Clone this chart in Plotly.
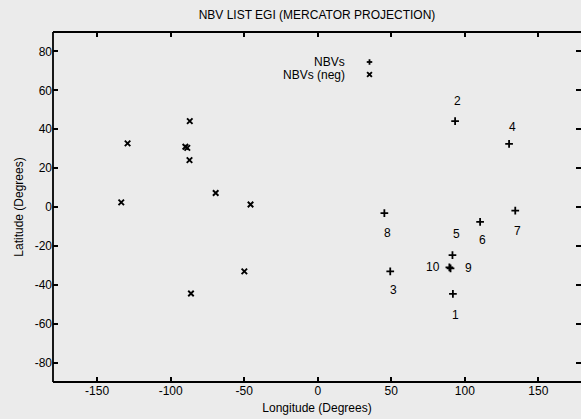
import plotly.graph_objects as go

# NBV (positive) points
nbv_lon = [91.9, 93.4, 49.3, 130.1, 91.6, 110.4, 134.3, 45.3, 90.3, 89.5]
nbv_lat = [-44.7, 44.2, -33.1, 32.5, -24.7, -7.7, -1.9, -3.1, -31.6, -31.0]
nbv_labels = ["1", "2", "3", "4", "5", "6", "7", "8", "9", "10"]

# NBV (negative) points
neg_lon = [-129.3, -87.0, -90.0, -88.7, -87.2, -69.4, -133.6, -45.7, -49.9, -86.2]
neg_lat = [32.7, 44.2, 31.0, 30.4, 24.1, 7.2, 2.4, 1.3, -33.1, -44.5]

x_ticks = [-150, -100, -50, 0, 50, 100, 150]
y_ticks = [-80, -60, -40, -20, 0, 20, 40, 60, 80]

# label pixel offsets (screen px: dx, dy up positive)
label_shift = [(3, -21), (2, 20), (3, -19), (3, 17), (4, 21), (2, -18),
               (2, -20), (3, -20), (18, 0), (-16, 0)]

W, H = 581, 419
ML, MR, MT, MB = 53, 0, 32, 37
BG = "#ebebeb"
FONT = "Liberation Sans, Arial, Helvetica, sans-serif"

fig = go.Figure()
fig.add_trace(go.Scatter(
    x=nbv_lon, y=nbv_lat, mode="markers", name="NBVs",
    marker=dict(symbol="cross-thin", size=5.5, color="black",
                line=dict(width=1.8, color="black")),
    showlegend=False, cliponaxis=False))
fig.add_trace(go.Scatter(
    x=neg_lon, y=neg_lat, mode="markers", name="NBVs (neg)",
    marker=dict(symbol="x-thin", size=5.5, color="black",
                line=dict(width=1.9, color="black")),
    showlegend=False, cliponaxis=False))

annotations = []
for lon, lat, lab, (dx, dy) in zip(nbv_lon, nbv_lat, nbv_labels, label_shift):
    annotations.append(dict(x=lon, y=lat, xref="x", yref="y", text=lab,
                            showarrow=False, xshift=dx, yshift=dy,
                            font=dict(family=FONT, size=12, color="black")))

pw = W - ML - MR
ph = H - MT - MB


def px2paper(px, py):
    return (px - ML) / pw, (H - MB - py) / ph


# legend text
for txt, py in [("NBVs", 62), ("NBVs (neg)", 74.5)]:
    x0, y0 = px2paper(347, py)
    annotations.append(dict(x=x0, y=y0, xref="paper", yref="paper", text=txt,
                            showarrow=False, xanchor="right", yanchor="middle",
                            font=dict(family=FONT, size=12, color="black")))

shapes = []
# legend keys
cx, cy = 369.5, 62
r = 2.75
for (ax, ay, bx, by) in [(cx - r, cy, cx + r, cy), (cx, cy - r, cx, cy + r)]:
    a = px2paper(ax, ay); b = px2paper(bx, by)
    shapes.append(dict(type="line", xref="paper", yref="paper", x0=a[0], y0=a[1],
                       x1=b[0], y1=b[1], line=dict(color="black", width=1.8)))
cx, cy = 369.5, 74.5
r = 2.4
for (ax, ay, bx, by) in [(cx - r, cy - r, cx + r, cy + r), (cx - r, cy + r, cx + r, cy - r)]:
    a = px2paper(ax, ay); b = px2paper(bx, by)
    shapes.append(dict(type="line", xref="paper", yref="paper", x0=a[0], y0=a[1],
                       x1=b[0], y1=b[1], line=dict(color="black", width=1.9)))

# frame: left, top, bottom (right side falls off the page)
shapes.append(dict(type="line", xref="paper", yref="paper", x0=0, y0=0, x1=0, y1=1,
                   line=dict(color="black", width=1.8)))
shapes.append(dict(type="line", xref="paper", yref="paper", x0=0, y0=1, x1=1, y1=1,
                   line=dict(color="black", width=1.8)))
shapes.append(dict(type="line", xref="paper", yref="paper", x0=0, y0=0, x1=1, y1=0,
                   line=dict(color="black", width=1.8)))

fig.update_layout(
    width=W, height=H,
    margin=dict(l=ML, r=MR, t=MT, b=MB, pad=0),
    paper_bgcolor=BG, plot_bgcolor=BG,
    font=dict(family=FONT, size=12, color="black"),
    title=dict(text="NBV LIST EGI (MERCATOR PROJECTION)", x=317 / W,
               xanchor="center", y=1 - 15 / H, yanchor="middle",
               font=dict(family=FONT, size=12, color="black")),
    annotations=annotations,
    shapes=shapes,
    xaxis=dict(range=[-180, 179], tickvals=x_ticks, ticktext=[str(v) for v in x_ticks],
               ticks="inside", ticklen=5, tickwidth=1.5, tickcolor="black",
               showline=False, mirror="ticks", showgrid=False, zeroline=False,
               title=dict(text="Longitude (Degrees)", standoff=6,
                          font=dict(family=FONT, size=12)),
               tickfont=dict(family=FONT, size=12)),
    yaxis=dict(range=[-90, 90], tickvals=y_ticks, ticktext=[str(v) for v in y_ticks],
               ticks="inside", ticklen=5, tickwidth=1.5, tickcolor="black",
               showline=False, mirror="ticks", showgrid=False, zeroline=False,
               title=dict(text="Latitude (Degrees)", standoff=8,
                          font=dict(family=FONT, size=12)),
               tickfont=dict(family=FONT, size=12)),
)

fig.write_html("out.html")
